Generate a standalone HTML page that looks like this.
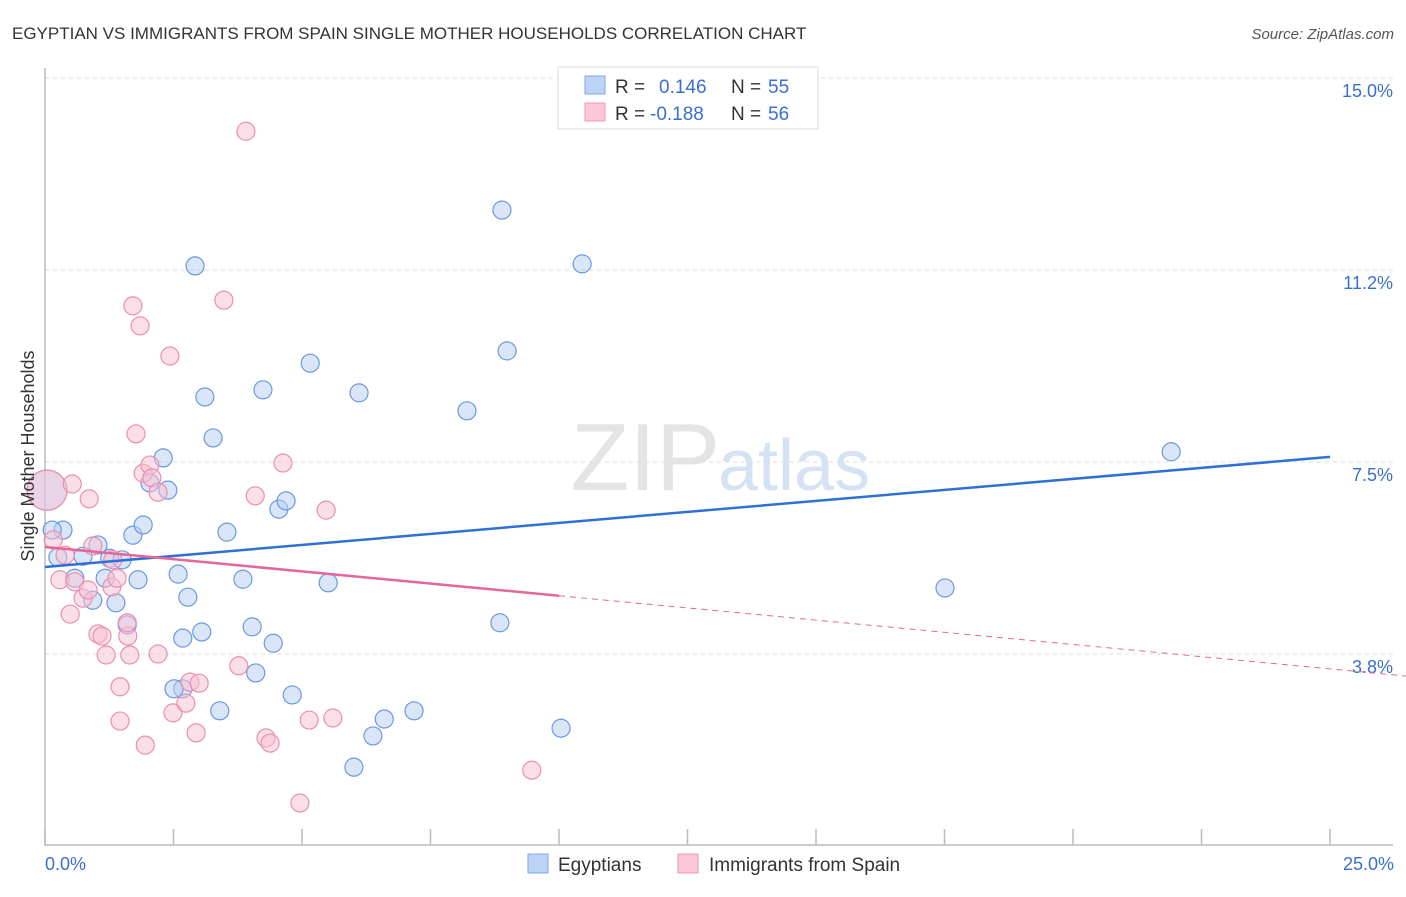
<!DOCTYPE html>
<html><head><meta charset="utf-8"><style>
body{margin:0;background:#fff;font-family:"Liberation Sans",sans-serif}
svg text{font-family:"Liberation Sans",sans-serif}
</style></head><body>
<svg id="chart" width="1406" height="892" xmlns="http://www.w3.org/2000/svg">
<text x="12" y="39" font-size="17" fill="#333">EGYPTIAN VS IMMIGRANTS FROM SPAIN SINGLE MOTHER HOUSEHOLDS CORRELATION CHART</text>
<text x="1394" y="39" font-size="15" fill="#555" text-anchor="end" font-style="italic">Source: ZipAtlas.com</text>
<text x="720" y="490" font-size="96" fill="#e4e4e4" text-anchor="end" font-family="Liberation Serif">ZIP</text>
<text x="718" y="490" font-size="72" fill="#d4e2f4">atlas</text>
<g id="grid"></g>
<g id="axes"></g>
<g id="pts"></g>
<g id="trends"></g>
<text transform="translate(34,456) rotate(-90)" font-size="18" fill="#333" text-anchor="middle">Single Mother Households</text>
<text x="45" y="870" font-size="18" fill="#3a6fd0">0.0%</text>
<text x="1394" y="870" font-size="18" fill="#3a6fd0" text-anchor="end">25.0%</text>
<g>
<rect x="558" y="67" width="260" height="62" fill="#fff" stroke="#ddd"/>
<rect x="585" y="76" width="20" height="18" fill="#bcd3f5" stroke="#7fa6e3"/>
<rect x="585" y="103" width="20" height="18" fill="#fcc8d8" stroke="#ee9ab4"/>
<text x="615" y="93" font-size="19" fill="#333">R =</text>
<text x="659" y="93" font-size="19" fill="#3a6fd0">0.146</text>
<text x="731" y="93" font-size="19" fill="#333">N =</text>
<text x="768" y="93" font-size="19" fill="#3a6fd0">55</text>
<text x="615" y="120" font-size="19" fill="#333">R =</text>
<text x="650" y="120" font-size="19" fill="#3a6fd0">-0.188</text>
<text x="731" y="120" font-size="19" fill="#333">N =</text>
<text x="768" y="120" font-size="19" fill="#3a6fd0">56</text>
</g>
<g>
<rect x="528" y="854" width="20" height="19" fill="#bcd3f5" stroke="#7fa6e3"/>
<text x="558" y="871" font-size="19" fill="#333">Egyptians</text>
<rect x="678" y="854" width="20" height="19" fill="#fcc8d8" stroke="#ee9ab4"/>
<text x="709" y="871" font-size="19" fill="#333">Immigrants from Spain</text>
</g>
</svg>
<script>
const yTicks=[3.75,7.5,11.25,15];
const yTickLabels=["3.8%","7.5%","11.2%","15.0%"];
const xTicks=[0,2.5,5,7.5,10,12.5,15,17.5,20,22.5,25];
const blueX=[0.04,0.35,0.14,0.25,0.58,0.74,0.93,1.03,1.17,1.26,1.38,1.50,1.60,1.71,1.81,1.91,2.04,2.30,2.39,2.59,2.68,2.78,2.68,2.92,3.05,3.11,3.27,3.40,3.54,3.85,4.03,4.10,4.24,4.44,4.55,4.69,4.81,5.16,5.51,6.01,6.11,6.38,6.60,7.18,8.21,8.85,8.89,8.99,10.04,10.45,17.51,21.91,2.51];
const blueY=[6.95,6.17,6.17,5.64,5.23,5.66,4.80,5.88,5.23,5.62,4.75,5.59,4.32,6.07,5.20,6.27,7.09,7.58,6.95,5.31,3.07,4.86,4.06,11.33,4.18,8.77,7.97,2.64,6.13,5.21,4.28,3.38,8.91,3.96,6.58,6.74,2.95,9.43,5.14,1.54,8.85,2.15,2.48,2.64,8.50,4.36,12.42,9.67,2.30,11.37,5.04,7.70,3.07];
const pinkX=[0.04,0.16,0.29,0.39,0.49,0.53,0.58,0.74,0.86,0.84,0.93,1.03,1.11,1.19,1.30,1.32,1.40,1.46,1.46,1.61,1.65,1.60,1.71,1.85,1.77,1.91,1.95,2.04,2.08,2.20,2.20,2.43,2.49,2.74,2.82,2.94,3.00,3.48,3.77,3.91,4.09,4.30,4.38,4.63,4.96,5.14,5.47,5.60,9.47];
const pinkY=[6.95,5.98,5.20,5.68,4.53,7.07,5.16,4.84,6.78,5.00,5.86,4.14,4.10,3.73,5.06,5.59,5.23,2.44,3.11,4.10,3.73,4.36,10.55,10.16,8.05,7.28,1.97,7.44,7.19,3.75,6.91,9.57,2.60,2.79,3.20,2.21,3.18,10.66,3.52,13.96,6.84,2.11,2.01,7.48,0.84,2.46,6.56,2.50,1.48];
const blueTrend=[5.45,7.60];
const pinkTrend=[5.84,-0.0952];
const NS="http://www.w3.org/2000/svg";
const sx=v=>45+v*(1285/25);
const sy=v=>846-v*(768/15);
function mk(tag,attrs,parent){const e=document.createElementNS(NS,tag);for(const k in attrs)e.setAttribute(k,attrs[k]);parent.appendChild(e);return e;}
const grid=document.getElementById('grid'),axes=document.getElementById('axes'),pts=document.getElementById('pts'),tr=document.getElementById('trends');
yTicks.forEach((t,i)=>{
 const l=mk('line',{x1:45,x2:1393,y1:sy(t),y2:sy(t),stroke:'#ddd','stroke-dasharray':'4,4'},grid);
 
 
 const tx=mk('text',{x:1393,y:sy(t)+19,'font-size':18,fill:'#3a6fd0','text-anchor':'end'},grid);
 tx.textContent=yTickLabels[i];
 
 
});
const ya=mk('line',{x1:45,x2:45,y1:68,y2:846,stroke:'#bbb','stroke-width':1.5},axes);


const xa=mk('line',{x1:45,x2:1393,y1:845,y2:845,stroke:'#bbb','stroke-width':1.5},axes);


xTicks.forEach(t=>{
 const l=mk('line',{x1:sx(t),x2:sx(t),y1:829,y2:845,stroke:'#bbb','stroke-width':1.5},axes);
 
 
});
function dots(X,Y,fill,stroke,name){
 X.forEach((x,i)=>{
  const r=i===0?20:9;
  const c=mk('circle',{cx:sx(x),cy:sy(Y[i]),r:r,fill:fill,'fill-opacity':0.5,stroke:stroke,'stroke-width':1.2},pts);
  
  
 });
}
dots(blueX,blueY,'#b5cdf2','#6a99e0','egyptians-point');
dots(pinkX,pinkY,'#f8c0d2','#ea8fae','spain-point');
const bl=mk('line',{x1:sx(0),y1:sy(blueTrend[0]),x2:sx(25),y2:sy(blueTrend[1]),stroke:'#2f6fd6','stroke-width':2.5},tr);


const pf=x=>pinkTrend[0]+pinkTrend[1]*x;
const xEnd=-pinkTrend[0]/pinkTrend[1];
const pl=mk('line',{x1:sx(0),y1:sy(pf(0)),x2:sx(10),y2:sy(pf(10)),stroke:'#e4679a','stroke-width':2.5},tr);


const pd=mk('line',{x1:sx(10),y1:sy(pf(10)),x2:sx(xEnd),y2:sy(0),stroke:'#e4679a','stroke-width':1,'stroke-dasharray':'6,5'},tr);


</script>
</body></html>
